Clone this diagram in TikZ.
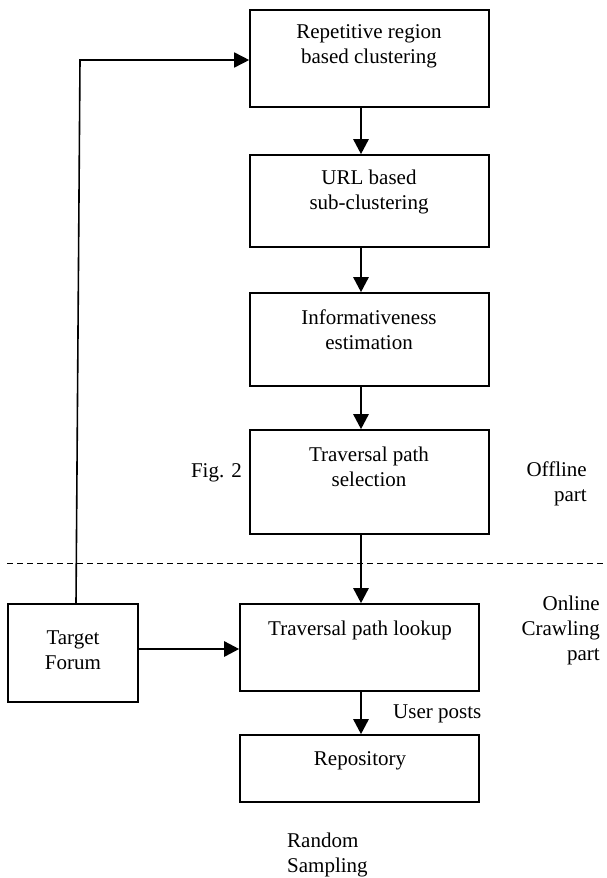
\documentclass[tikz,border=0pt]{standalone}
\usepackage{fontspec}
\setmainfont{Liberation Serif}
\usetikzlibrary{arrows.meta}
\begin{document}
\begin{tikzpicture}[x=1pt,y=-1pt,
  box/.style={draw,line width=1.6pt,rectangle,inner sep=0pt},
  txt/.style={align=center,inner sep=0pt,font=\fontsize{21}{25}\selectfont},
  arr/.style={line width=2.6pt,-{Triangle[length=15pt,width=15pt]}},
  thin/.style={line width=1.6pt}]
\useasboundingbox (0,0) rectangle (606,878);
% boxes
\node[box,minimum width=239pt,minimum height=97pt] (b1) at (369.5,58.5) {};
\node[box,minimum width=239pt,minimum height=92pt] (b2) at (369.5,201) {};
\node[box,minimum width=239pt,minimum height=93pt] (b3) at (369.5,339.5) {};
\node[box,minimum width=239pt,minimum height=104pt] (b4) at (369.5,482) {};
\node[box,minimum width=239pt,minimum height=87pt] (lk) at (359.5,647.5) {};
\node[box,minimum width=239pt,minimum height=67pt] (rp) at (359.5,768.5) {};
\node[box,minimum width=130pt,minimum height=98pt] (tf) at (73,653) {};
% box texts
\node[txt] (t1) at (369,46.5) {Repetitive region\\based clustering};
\node[txt] (t2) at (369,191.5) {URL based\\sub-clustering};
\node[txt] (t3) at (369,329.5) {Informativeness\\estimation};
\node[txt] (t4) at (369,467) {Traversal path\\selection};
\node[txt] (t5) at (360,630) {Traversal path lookup};
\node[txt] (t6) at (360,761) {Repository};
\node[txt] (t7) at (73,650.5) {Target\\Forum};
% side labels
\node[txt,anchor=east] (fig) at (242,473) {Fig. 2};
\node[txt,align=right,anchor=east] (off) at (587,484) {Offline\\part};
\node[txt,align=right,anchor=east] (on) at (600,630) {Online\\Crawling\\part};
\node[txt,anchor=west] (up) at (393,714) {User posts};
\node[txt,align=left,anchor=west] (rs) at (287,854.5) {Random\\Sampling};
% dashed separator
\coordinate (d1) at (7,563);
\coordinate (d2) at (606,563);
\draw[line width=1pt,dash pattern=on 6pt off 4pt] (d1) -- (d2);
% arrows
\coordinate (ax) at (361,0);
\draw[arr] (b1.south -| ax) -- (b2.north -| ax);
\draw[arr] (b2.south -| ax) -- (b3.north -| ax);
\draw[arr] (b3.south -| ax) -- (b4.north -| ax);
\draw[arr] (b4.south -| ax) -- (lk.north -| ax);
\draw[arr] (lk.south -| ax) -- (rp.north -| ax);
\coordinate (ay) at (0,649);
\draw[arr] (tf.east |- ay) -- (lk.west |- ay);
\coordinate (c1) at (76,604);
\coordinate (c2) at (80,60);
\draw[thin,-{Triangle[length=15pt,width=15pt]}] (c1) -- (c2) -- (b1.west |- c2);
\end{tikzpicture}
\end{document}
